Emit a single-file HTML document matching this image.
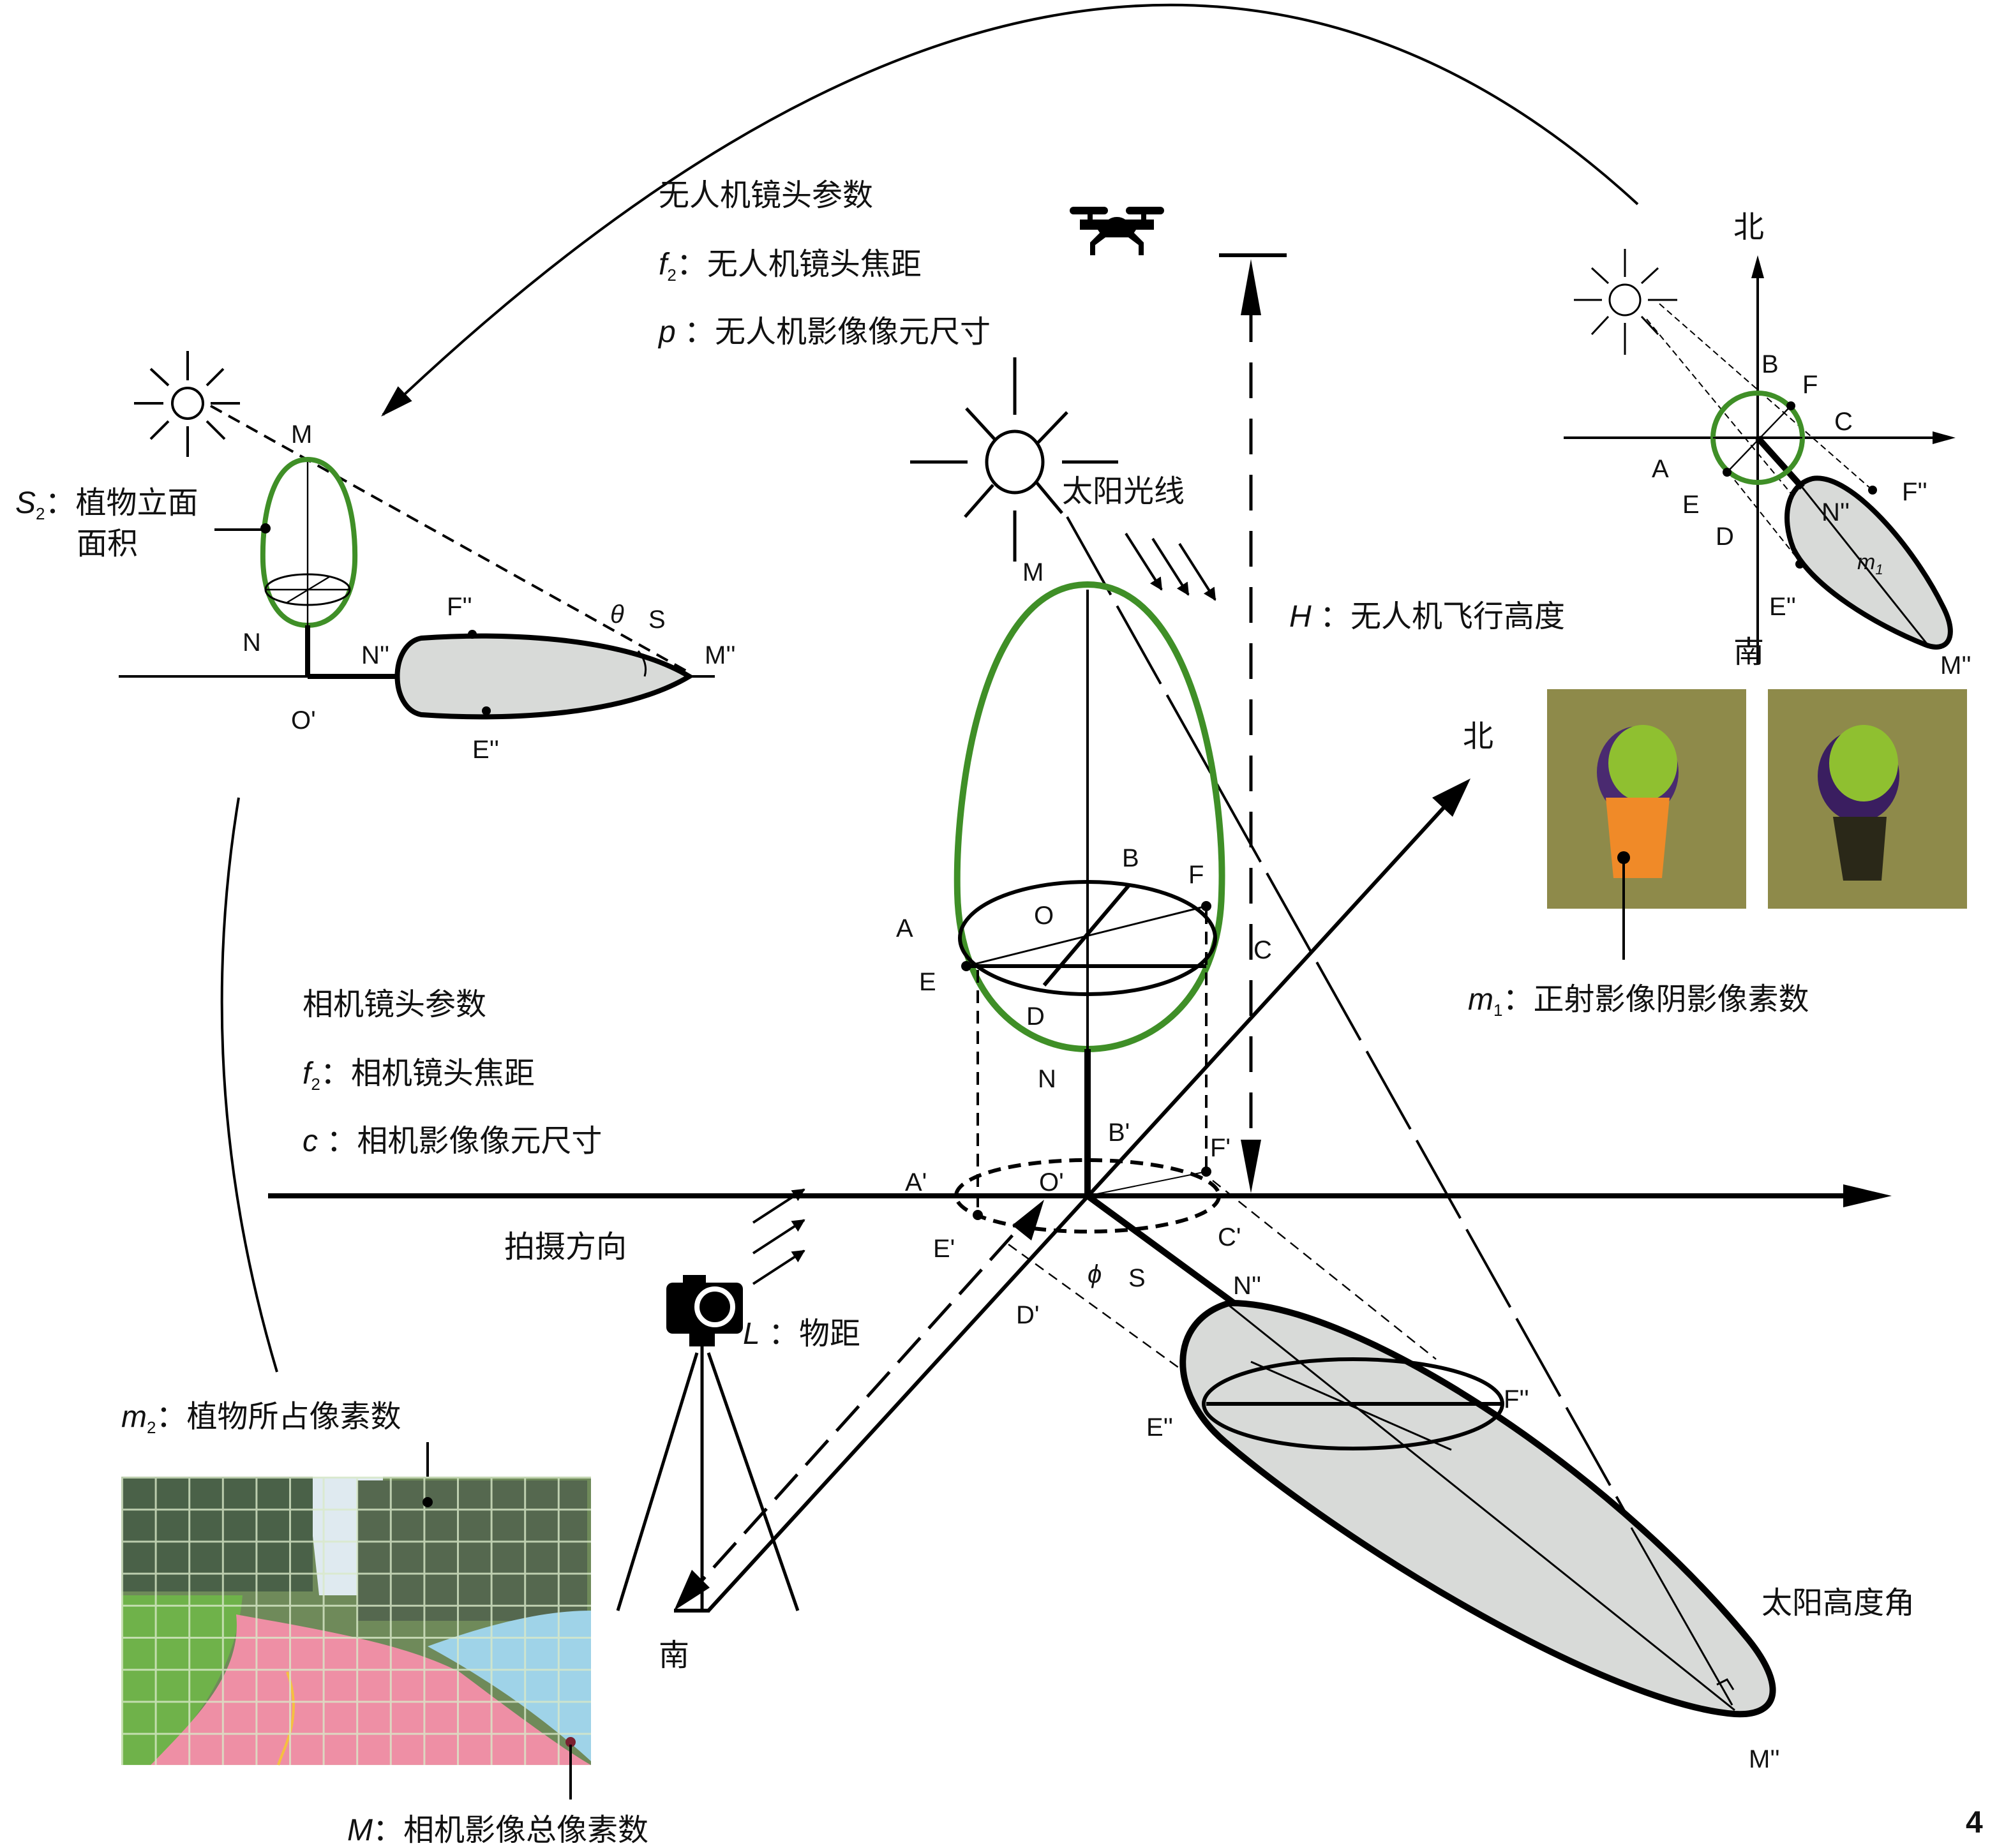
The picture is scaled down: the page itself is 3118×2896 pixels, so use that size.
<!DOCTYPE html>
<html><head><meta charset="utf-8"><style>
html,body{margin:0;padding:0;background:#fff}
svg{display:block}
text{font-family:"Liberation Sans","Noto Sans CJK SC",sans-serif;fill:#111}
.cn{font-size:24px}
.lb{font-size:20px}
</style></head><body>
<svg width="3118" height="2896" viewBox="0 0 1559 1448" xmlns="http://www.w3.org/2000/svg">
<defs>
<marker id="ar" markerWidth="10" markerHeight="10" refX="9" refY="5" orient="auto" markerUnits="userSpaceOnUse"><path d="M0,0 L10,5 L0,10Z" fill="#000"/></marker>
<marker id="arM" markerWidth="26" markerHeight="16" refX="24" refY="8" orient="auto" markerUnits="userSpaceOnUse"><path d="M0,0 L26,8 L0,16Z" fill="#000"/></marker>
<pattern id="grid" width="26.3" height="25.1" patternUnits="userSpaceOnUse" x="95" y="1157"><path d="M0,0 H26.3 M0,0 V25.1" stroke="#d8e8c8" stroke-width="3" fill="none" opacity="0.8"/></pattern>
</defs>

<path d="M1283,160 Q870,-220 300,325" fill="none" stroke="#000" stroke-width="2" marker-end="url(#arM)"/>
<path d="M217,1075 Q150,850 187,625" fill="none" stroke="#000" stroke-width="2"/>

<text x="516" y="161" class="cn">无人机镜头参数</text>
<text x="516" y="215" class="cn"><tspan font-style="italic">f</tspan><tspan font-size="13" dy="5">2</tspan><tspan dy="-5">：无人机镜头焦距</tspan></text>
<text x="516" y="268" class="cn"><tspan font-style="italic">p</tspan> ：无人机影像像元尺寸</text>

<g fill="#000">
<rect x="838" y="162" width="30" height="6" rx="3"/><rect x="882" y="162" width="30" height="6" rx="3"/>
<rect x="852" y="166" width="4" height="8"/><rect x="894" y="166" width="4" height="8"/>
<path d="M846,172 H904 V180 H890 L886,186 H864 L860,180 H846Z"/>
<ellipse cx="875" cy="178" rx="10" ry="8"/>
<path d="M862,182 L854,190 V200 H858 V192 L866,186Z M888,182 L896,190 V200 H892 V192 L884,186Z"/>
</g>

<line x1="955" y1="200" x2="1008" y2="200" stroke="#000" stroke-width="3"/>
<line x1="980" y1="240" x2="980" y2="895" stroke="#000" stroke-width="2.5" stroke-dasharray="28,16"/>
<path d="M980,203 L972,247 H988Z" fill="#000"/>
<path d="M980,935 L972,893 H988Z" fill="#000"/>
<text x="1010" y="491" class="cn"><tspan font-style="italic">H</tspan> ：无人机飞行高度</text>

<g stroke="#000" stroke-width="2.5" fill="none">
<ellipse cx="795" cy="362" rx="22" ry="24"/>
<line x1="795" y1="280" x2="795" y2="325"/><line x1="795" y1="400" x2="795" y2="440"/>
<line x1="713" y1="362" x2="758" y2="362"/><line x1="832" y1="362" x2="876" y2="362"/>
<line x1="757" y1="320" x2="780" y2="345"/><line x1="836" y1="323" x2="813" y2="347"/>
<line x1="756" y1="405" x2="778" y2="380"/><line x1="812" y1="378" x2="832" y2="402"/>
</g>
<text x="832" y="393" class="cn">太阳光线</text>
<g stroke="#000" stroke-width="2">
<line x1="882" y1="418" x2="910" y2="462" marker-end="url(#ar)"/>
<line x1="903" y1="422" x2="931" y2="466" marker-end="url(#ar)"/>
<line x1="924" y1="426" x2="952" y2="470" marker-end="url(#ar)"/>
</g>

<line x1="836" y1="405" x2="1359" y2="1338" stroke="#000" stroke-width="2" stroke-dasharray="70,10"/>

<line x1="210" y1="937" x2="1450" y2="937" stroke="#000" stroke-width="4"/>
<path d="M1482,937 L1444,928 V946Z" fill="#000"/>

<line x1="555" y1="1262" x2="1140" y2="623" stroke="#000" stroke-width="3"/>
<path d="M1152,610 L1122,625 L1138,640Z" fill="#000"/>
<text x="1146" y="585" class="cn">北</text>
<line x1="528" y1="1262" x2="556" y2="1262" stroke="#000" stroke-width="3"/>
<line x1="535" y1="1255" x2="812" y2="947" stroke="#000" stroke-width="2.5" stroke-dasharray="26,10"/>
<path d="M528,1262 L542,1230 L556,1244Z" fill="#000"/>
<path d="M818,940 L793,960 L808,972Z" fill="#000"/>
<text x="516" y="1305" class="cn">南</text>

<path d="M852,458 C770,458 748,620 750,700 C752,785 805,822 852,822 C900,822 955,785 957,700 C960,620 935,458 852,458Z" fill="none" stroke="#3f8f27" stroke-width="5"/>
<line x1="852" y1="462" x2="852" y2="822" stroke="#000" stroke-width="2"/>
<line x1="852" y1="822" x2="852" y2="937" stroke="#000" stroke-width="5"/>
<ellipse cx="852" cy="735" rx="100" ry="44" fill="none" stroke="#000" stroke-width="3"/>
<line x1="755" y1="757" x2="945" y2="757" stroke="#000" stroke-width="3"/>
<line x1="757" y1="757" x2="945" y2="710" stroke="#000" stroke-width="1.5"/>
<line x1="885" y1="693" x2="818" y2="772" stroke="#000" stroke-width="3"/>
<circle cx="945" cy="710" r="4" fill="#000"/><circle cx="757" cy="757" r="4" fill="#000"/>
<line x1="766" y1="760" x2="766" y2="950" stroke="#000" stroke-width="2" stroke-dasharray="10,6"/>
<line x1="945" y1="714" x2="945" y2="918" stroke="#000" stroke-width="2" stroke-dasharray="10,6"/>
<ellipse cx="852" cy="937" rx="103" ry="28" fill="none" stroke="#000" stroke-width="3" stroke-dasharray="10,6"/>
<circle cx="945" cy="918" r="4" fill="#000"/><circle cx="766" cy="952" r="4" fill="#000"/>
<line x1="852" y1="937" x2="945" y2="918" stroke="#000" stroke-width="1"/>

<g>
<text x="801" y="455" class="lb">M</text>
<text x="879" y="679" class="lb">B</text>
<text x="931" y="692" class="lb">F</text>
<text x="810" y="724" class="lb">O</text>
<text x="702" y="734" class="lb">A</text>
<text x="720" y="776" class="lb">E</text>
<text x="982" y="751" class="lb">C</text>
<text x="804" y="803" class="lb">D</text>
<text x="813" y="852" class="lb">N</text>
<text x="868" y="894" class="lb">B'</text>
<text x="948" y="906" class="lb">F'</text>
<text x="709" y="933" class="lb">A'</text>
<text x="814" y="933" class="lb">O'</text>
<text x="731" y="985" class="lb">E'</text>
<text x="954" y="976" class="lb">C'</text>
<text x="796" y="1037" class="lb">D'</text>
<text x="852" y="1005" class="lb" font-style="italic">ϕ</text>
<text x="884" y="1008" class="lb">S</text>
<text x="966" y="1014" class="lb">N''</text>
<text x="898" y="1125" class="lb">E''</text>
<text x="1178" y="1103" class="lb">F''</text>
<text x="1060" y="1106" class="lb">O''</text>
<text x="1268" y="1264" class="lb" font-style="italic">θ</text>
<text x="1298" y="1270" class="lb">S</text>
<text x="1370" y="1385" class="lb">M''</text>
</g>

<line x1="790" y1="975" x2="935" y2="1080" stroke="#000" stroke-width="1.2" stroke-dasharray="8,5"/>
<line x1="950" y1="925" x2="1125" y2="1065" stroke="#000" stroke-width="1.2" stroke-dasharray="8,5"/>
<line x1="852" y1="937" x2="968" y2="1022" stroke="#000" stroke-width="5"/>
<path d="M963,1021 C1060,1020 1260,1150 1370,1285 C1398,1320 1395,1345 1359,1343 C1260,1335 1060,1215 960,1130 C915,1092 915,1035 963,1021Z" fill="#d8dad8" stroke="#000" stroke-width="5"/>
<ellipse cx="1060" cy="1100" rx="117" ry="35" fill="none" stroke="#000" stroke-width="3"/>
<line x1="945" y1="1100" x2="1177" y2="1100" stroke="#000" stroke-width="3"/>
<line x1="980" y1="1067" x2="1137" y2="1136" stroke="#000" stroke-width="1.5"/>
<line x1="963" y1="1023" x2="1359" y2="1340" stroke="#000" stroke-width="1.5"/>
<line x1="1278" y1="1197" x2="1357" y2="1336" stroke="#000" stroke-width="1.5"/>
<path d="M1345,1320 L1353,1316 L1358,1324" fill="none" stroke="#000" stroke-width="1.5"/>
<text x="1380" y="1264" class="cn">太阳高度角</text>

<text x="237" y="795" class="cn">相机镜头参数</text>
<text x="237" y="849" class="cn"><tspan font-style="italic">f</tspan><tspan font-size="13" dy="5">2</tspan><tspan dy="-5">：相机镜头焦距</tspan></text>
<text x="237" y="902" class="cn"><tspan font-style="italic">c</tspan> ：相机影像像元尺寸</text>
<text x="395" y="985" class="cn">拍摄方向</text>
<g stroke="#000" stroke-width="2">
<line x1="590" y1="958" x2="630" y2="932" marker-end="url(#ar)"/>
<line x1="590" y1="982" x2="630" y2="956" marker-end="url(#ar)"/>
<line x1="590" y1="1006" x2="630" y2="980" marker-end="url(#ar)"/>
</g>
<g fill="#000">
<rect x="522" y="1005" width="60" height="40" rx="5"/>
<rect x="535" y="999" width="18" height="8"/>
</g>
<circle cx="560" cy="1024" r="14" fill="none" stroke="#fff" stroke-width="4"/>
<rect x="540" y="1045" width="20" height="10" fill="#000"/>
<g stroke="#000" stroke-width="2.5">
<line x1="550" y1="1055" x2="550" y2="1262"/>
<line x1="546" y1="1060" x2="484" y2="1262"/>
<line x1="555" y1="1060" x2="625" y2="1262"/>
</g>
<text x="582" y="1053" class="cn"><tspan font-style="italic">L</tspan> ：物距</text>

<text x="95" y="1118" class="cn"><tspan font-style="italic">m</tspan><tspan font-size="13" dy="5">2</tspan><tspan dy="-5">：植物所占像素数</tspan></text>
<line x1="335" y1="1130" x2="335" y2="1177" stroke="#000" stroke-width="2"/>
<g>
<rect x="95" y="1157" width="368" height="226" fill="#6f8a5a"/>
<path d="M240,1157 H300 L300,1250 H250Z" fill="#dfeaf0"/>
<rect x="95" y="1157" width="150" height="90" fill="#4a6148"/>
<rect x="280" y="1160" width="180" height="110" fill="#55684f"/>
<path d="M95,1250 H190 C185,1310 150,1355 118,1383 H95Z" fill="#6fb24a"/>
<path d="M185,1265 C270,1280 320,1290 360,1310 C400,1340 440,1370 463,1383 H118 C155,1345 190,1310 185,1265Z" fill="#ee8fa5"/>
<path d="M335,1290 C390,1270 430,1262 463,1262 V1380 C430,1350 390,1320 335,1290Z" fill="#9fd3e8"/>
<path d="M225,1310 C238,1345 222,1370 218,1383" stroke="#f5c040" stroke-width="2" fill="none"/>
<rect x="95" y="1157" width="368" height="226" fill="url(#grid)"/>
</g>
<circle cx="335" cy="1177" r="4" fill="#000"/>
<circle cx="447" cy="1365" r="4" fill="#7a2030"/>
<line x1="447" y1="1367" x2="447" y2="1410" stroke="#000" stroke-width="2"/>
<text x="272" y="1442" class="cn"><tspan font-style="italic">M</tspan>：相机影像总像素数</text>

<g stroke="#000" stroke-width="2" fill="none">
<circle cx="147" cy="316" r="12"/>
<line x1="147" y1="275" x2="147" y2="298"/><line x1="147" y1="334" x2="147" y2="358"/>
<line x1="105" y1="316" x2="128" y2="316"/><line x1="165" y1="316" x2="188" y2="316"/>
<line x1="118" y1="289" x2="132" y2="302"/><line x1="175" y1="289" x2="162" y2="302"/>
<line x1="118" y1="344" x2="132" y2="330"/><line x1="176" y1="344" x2="162" y2="330"/>
</g>
<line x1="93" y1="530" x2="560" y2="530" stroke="#000" stroke-width="2"/>
<line x1="165" y1="318" x2="540" y2="527" stroke="#000" stroke-width="2" stroke-dasharray="10,6"/>
<path d="M241,360 C215,360 205,400 206,440 C207,470 220,490 241,490 C262,490 277,470 278,440 C279,400 268,360 241,360Z" fill="none" stroke="#3f8f27" stroke-width="4"/>
<ellipse cx="241" cy="462" rx="33" ry="12" fill="none" stroke="#000" stroke-width="1.5"/>
<line x1="208" y1="462" x2="274" y2="462" stroke="#000" stroke-width="1.2"/>
<line x1="225" y1="472" x2="258" y2="452" stroke="#000" stroke-width="1.2"/>
<line x1="241" y1="362" x2="241" y2="490" stroke="#000" stroke-width="1.2"/>
<line x1="241" y1="490" x2="241" y2="530" stroke="#000" stroke-width="4"/>
<line x1="241" y1="530" x2="315" y2="530" stroke="#000" stroke-width="4"/>
<path d="M330,500 C400,495 490,500 540,530 C490,560 400,565 330,560 C305,555 305,505 330,500Z" fill="#d8dad8" stroke="#000" stroke-width="4"/>
<circle cx="208" cy="414" r="4" fill="#000"/>
<circle cx="370" cy="497" r="3.5" fill="#000"/><circle cx="381" cy="557" r="3.5" fill="#000"/>
<path d="M500,510 Q508,520 505,530" fill="none" stroke="#000" stroke-width="1.5"/>
<line x1="168" y1="415" x2="205" y2="415" stroke="#000" stroke-width="2"/>
<text x="228" y="347" class="lb">M</text>
<text x="12" y="402" class="cn"><tspan font-style="italic">S</tspan><tspan font-size="13" dy="5">2</tspan><tspan dy="-5">：植物立面</tspan></text>
<text x="60" y="434" class="cn">面积</text>
<text x="190" y="510" class="lb">N</text>
<text x="283" y="520" class="lb">N''</text>
<text x="228" y="571" class="lb">O'</text>
<text x="350" y="482" class="lb">F''</text>
<text x="370" y="594" class="lb">E''</text>
<text x="478" y="488" class="lb" font-style="italic">θ</text>
<text x="508" y="492" class="lb">S</text>
<text x="552" y="520" class="lb">M''</text>

<g stroke="#000" stroke-width="1.5" fill="none">
<circle cx="1273" cy="235" r="12"/>
<line x1="1273" y1="195" x2="1273" y2="217"/><line x1="1273" y1="253" x2="1273" y2="278"/>
<line x1="1233" y1="235" x2="1255" y2="235"/><line x1="1291" y1="235" x2="1314" y2="235"/>
<line x1="1247" y1="210" x2="1260" y2="222"/><line x1="1299" y1="210" x2="1286" y2="222"/>
<line x1="1247" y1="262" x2="1260" y2="248"/><line x1="1299" y1="262" x2="1286" y2="248"/>
</g>
<line x1="1377" y1="520" x2="1377" y2="215" stroke="#000" stroke-width="2"/>
<path d="M1377,200 L1372,218 H1382Z" fill="#000"/>
<line x1="1225" y1="343" x2="1515" y2="343" stroke="#000" stroke-width="2"/>
<path d="M1532,343 L1514,338 V348Z" fill="#000"/>
<line x1="1290" y1="250" x2="1410" y2="395" stroke="#000" stroke-width="1" stroke-dasharray="5,3"/>
<line x1="1300" y1="238" x2="1468" y2="385" stroke="#000" stroke-width="1" stroke-dasharray="5,3"/>
<line x1="1354" y1="370" x2="1410" y2="440" stroke="#000" stroke-width="1" stroke-dasharray="5,3"/>
<path d="M1420,375 C1450,370 1500,430 1522,475 C1535,500 1525,512 1508,505 C1470,490 1420,460 1405,430 C1395,405 1400,380 1420,375Z" fill="#d8dad8" stroke="#000" stroke-width="4"/>
<line x1="1377" y1="343" x2="1412" y2="382" stroke="#000" stroke-width="5"/>
<line x1="1412" y1="382" x2="1510" y2="505" stroke="#000" stroke-width="1.5"/>
<circle cx="1377" cy="343" r="35" fill="none" stroke="#3f8f27" stroke-width="4"/>
<line x1="1342" y1="343" x2="1412" y2="343" stroke="#000" stroke-width="1.2"/>
<line x1="1353" y1="370" x2="1403" y2="318" stroke="#000" stroke-width="1.2"/>
<circle cx="1403" cy="318" r="3.5" fill="#000"/><circle cx="1353" cy="370" r="3.5" fill="#000"/>
<circle cx="1467" cy="384" r="3.5" fill="#000"/><circle cx="1410" cy="442" r="3.5" fill="#000"/>
<text x="1358" y="186" class="cn">北</text>
<text x="1358" y="519" class="cn">南</text>
<g>
<text x="1380" y="292" font-size="20">B</text>
<text x="1412" y="308" font-size="20">F</text>
<text x="1437" y="337" font-size="20">C</text>
<text x="1294" y="374" font-size="20">A</text>
<text x="1318" y="402" font-size="20">E</text>
<text x="1344" y="427" font-size="20">D</text>
<text x="1427" y="408" font-size="20">N''</text>
<text x="1490" y="392" font-size="20">F''</text>
<text x="1386" y="482" font-size="20">E''</text>
<text x="1520" y="528" font-size="20">M''</text>
<text x="1455" y="446" font-size="17" font-style="italic">m<tspan font-size="11" dy="4">1</tspan></text>
</g>

<g>
<rect x="1212" y="540" width="156" height="172" fill="#8e8a4a"/>
<ellipse cx="1283" cy="605" rx="32" ry="36" fill="#4a2a70"/>
<ellipse cx="1287" cy="598" rx="27" ry="30" fill="#8fc030"/>
<path d="M1258,625 H1308 L1302,688 H1264Z" fill="#f08a28"/>
<rect x="1385" y="540" width="156" height="172" fill="#8e8a4a"/>
<ellipse cx="1456" cy="608" rx="32" ry="36" fill="#3a1e60"/>
<ellipse cx="1460" cy="598" rx="27" ry="30" fill="#8fc030"/>
<path d="M1436,640 H1478 L1474,690 H1444Z" fill="#2a2818"/>
</g>
<circle cx="1272" cy="672" r="5" fill="#000"/>
<line x1="1272" y1="672" x2="1272" y2="752" stroke="#000" stroke-width="2"/>
<text x="1150" y="791" class="cn"><tspan font-style="italic">m</tspan><tspan font-size="13" dy="5">1</tspan><tspan dy="-5">：正射影像阴影像素数</tspan></text>

<text x="1540" y="1436" font-size="24" font-weight="bold">4</text>
</svg>
</body></html>
